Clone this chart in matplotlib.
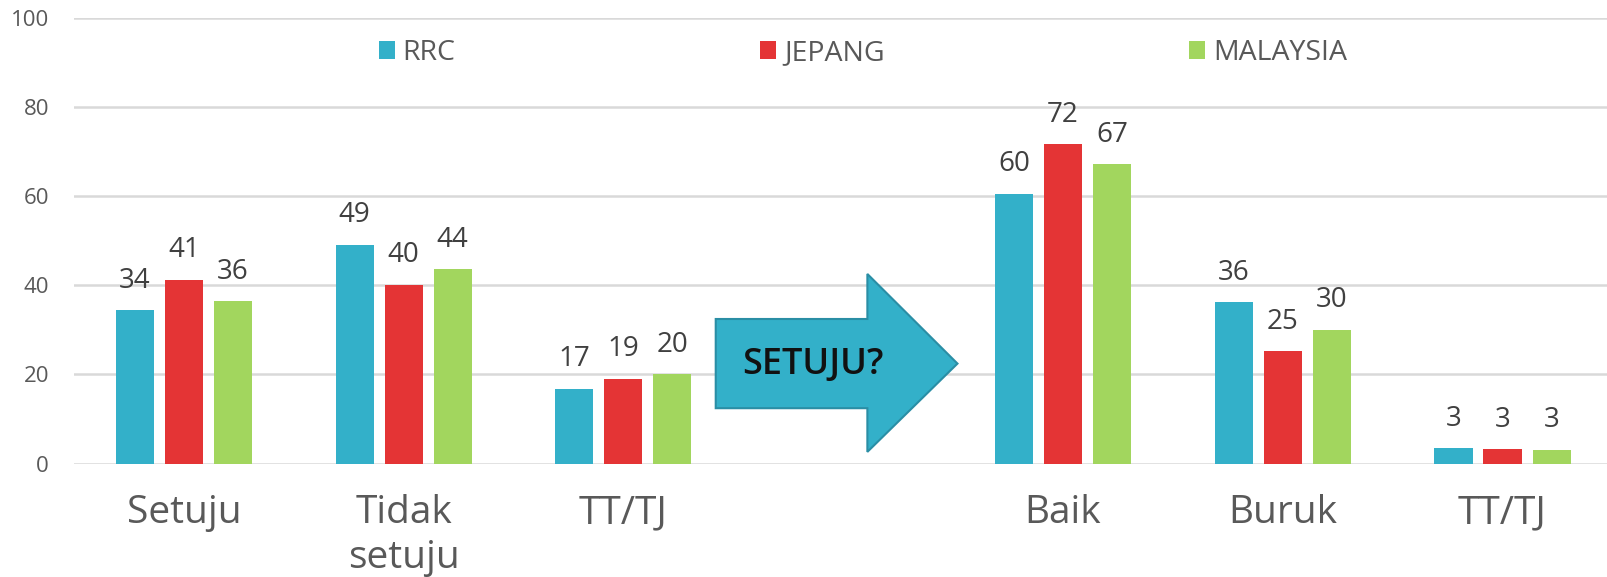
import matplotlib
matplotlib.use("Agg")
import matplotlib.pyplot as plt
from matplotlib.patches import Polygon
import numpy as np

plt.rcParams['font.family'] = ['Open Sans', 'DejaVu Sans']

categories = ["Setuju", "Tidak\nsetuju", "TT/TJ", "Baik", "Buruk", "TT/TJ"]
series_names = ["RRC", "JEPANG", "MALAYSIA"]
rrc = [34.4, 49.1, 16.8, 60.5, 36.2, 3.4]
jepang = [41.2, 40.1, 19.0, 71.6, 25.2, 3.3]
malaysia = [36.4, 43.6, 20.1, 67.1, 30.0, 3.1]
yticks = [0, 20, 40, 60, 80, 100]
arrow_text = "SETUJU?"

colors = ["#33b0c9", "#e43435", "#a2d65e"]

W, H = 1608, 577
fig = plt.figure(figsize=(W / 100, H / 100), dpi=100)
ax = fig.add_axes([74 / W, 113.5 / H, (W - 74) / W, 446 / H])

# category slots: an empty slot (index 3) holds the arrow
pos = np.array([i + (1 if i >= 3 else 0) for i in range(len(categories))], dtype=float)

bw = 0.173
step = 0.223
for k, (vals, c, name) in enumerate(zip([rrc, jepang, malaysia], colors, series_names)):
    x = pos + (k - 1) * step
    ax.bar(x, vals, width=bw, color=c, label=name, zorder=3)
    for xi, v in zip(x, vals):
        ax.annotate(f"{round(v):d}", (xi, v), xytext=(0, 11), textcoords="offset points",
                    ha="center", va="bottom", fontsize=20, color="#404040", zorder=4)

ax.set_xlim(-0.5, 6.48)
ax.set_ylim(0, 100)
ax.set_yticks(yticks)
ax.set_yticklabels([str(t) for t in yticks])
ax.set_xticks(pos)
ax.set_xticklabels(categories, fontsize=28, color="#595959", linespacing=1.25)
ax.tick_params(axis="x", length=0, pad=22)
ax.tick_params(axis="y", length=0, pad=18, labelsize=16, labelcolor="#595959")
for s in ax.spines.values():
    s.set_visible(False)
ax.yaxis.grid(True, color="#d9d9d9", linewidth=1.8, zorder=0)
ax.set_axisbelow(True)

# arrow shape
arrow_pts = [(2.42, 12.4), (2.42, 32.4), (3.11, 32.4), (3.11, 42.5),
             (3.52, 22.4), (3.11, 2.6), (3.11, 12.4)]
ax.add_patch(Polygon(arrow_pts, closed=True, facecolor="#33b0c9", edgecolor="#2a8ea5",
                     linewidth=1.5, zorder=5, clip_on=False))
ax.text(2.86, 22.1, arrow_text, ha="center", va="center", fontsize=26,
        fontweight="semibold", color="#111111", zorder=6)

leg = fig.legend(loc="center left", bbox_to_anchor=(379 / W, 1 - 53 / H), ncol=3,
                 frameon=False, fontsize=20.5, handlelength=0.55, handleheight=0.55,
                 handletextpad=0.28, columnspacing=10.7, borderpad=0, borderaxespad=0)
for t in leg.get_texts():
    t.set_color("#595959")

fig.savefig("out.png", dpi=100)
